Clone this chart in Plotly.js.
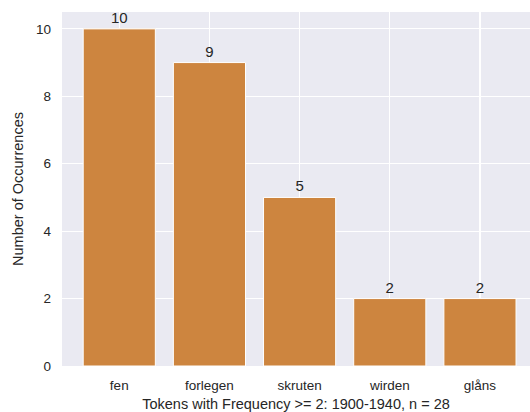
<!DOCTYPE html>
<html><head><meta charset="utf-8">
<script src="https://cdn.plot.ly/plotly-3.0.1.min.js"></script>
<style>body{margin:0;padding:0;background:#fff}#c{width:530px;height:412px}</style>
</head><body><div id="c"></div>
<script>
const tokens = ["fen", "forlegen", "skruten", "wirden", "glåns"];
const counts = [10, 9, 5, 2, 2];
const yTicks = [0, 2, 4, 6, 8, 10];

const xs = tokens.map((t, i) => i);
const trace = {
  type: 'bar',
  x: xs,
  y: counts,
  width: 0.8,
  marker: {color: '#CD853F', line: {color: '#ffffff', width: 1}},
  text: counts.map(String),
  textposition: 'outside',
  textfont: {family: 'Liberation Sans, Arial, sans-serif', size: 15, color: '#262626'},
  cliponaxis: false,
  hoverinfo: 'none'
};
const layout = {
  width: 530, height: 412,
  margin: {l: 62, r: 0, t: 12, b: 46},
  paper_bgcolor: '#ffffff',
  plot_bgcolor: '#EAEAF2',
  showlegend: false,
  font: {family: 'Liberation Sans, Arial, sans-serif', color: '#262626', size: 13},
  xaxis: {
    range: [-0.635, 4.555],
    tickvals: xs, ticktext: tokens,
    showgrid: true, gridcolor: '#ffffff', gridwidth: 1.2,
    zeroline: false, showline: false, ticks: '',
    ticklabelstandoff: 9,
    tickfont: {size: 13.5, color: '#262626'},
    title: {text: 'Tokens with Frequency >= 2: 1900-1940, n = 28', font: {size: 14.5, color: '#262626'}, standoff: 7}
  },
  yaxis: {
    range: [0, 10.5],
    tickvals: yTicks,
    showgrid: true, gridcolor: '#ffffff', gridwidth: 1.2,
    zeroline: false, showline: false, ticks: '',
    ticklabelstandoff: 10,
    tickfont: {size: 13.5, color: '#262626'},
    title: {text: 'Number of Occurrences', font: {size: 14.5, color: '#262626'}, standoff: 8}
  },
  bargap: 0.2
};
Plotly.newPlot('c', [trace], layout, {staticPlot: true, displayModeBar: false});
</script>
</body></html>
